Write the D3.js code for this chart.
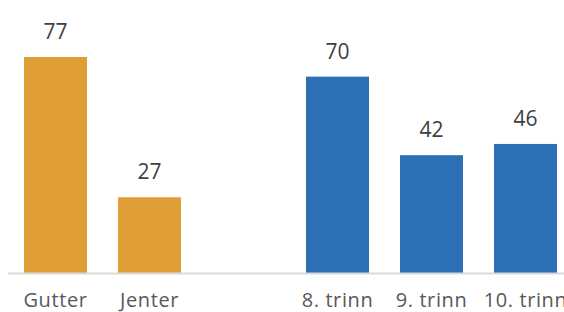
<!DOCTYPE html>
<html>
<head>
<meta charset="utf-8">
<script src="https://cdn.jsdelivr.net/npm/d3@7"></script>
<style>
  body { margin: 0; background: #fff; }
</style>
</head>
<body>
<div id="chart"></div>
<script>
// slots: empty string is the gap between the two groups
const categories = ["Gutter", "Jenter", "", "8. trinn", "9. trinn", "10. trinn"];
const values = [77, 27, null, 70, 42, 46];
const groups = ["kjonn", "kjonn", null, "trinn", "trinn", "trinn"];

const width = 564;
const height = 312;
const baseline = 273;

const colors = { kjonn: "#E09F36", trinn: "#2C6FB4" };

const svg = d3.select("#chart")
    .append("svg")
    .attr("width", width)
    .attr("height", height);

const x = d3.scaleBand()
    .domain(d3.range(categories.length))
    .range([8.5, 572.5])
    .paddingInner(0.33)
    .paddingOuter(0.165);

const y = d3.scaleLinear()
    .domain([0, 77])
    .range([baseline, 57]);

const data = categories.map((c, i) => ({ label: c, value: values[i], group: groups[i], i }));
const bars = data.filter(d => d.value !== null);

// bars
svg.append("g")
    .selectAll("rect")
    .data(bars)
    .enter().append("rect")
    .attr("x", d => x(d.i))
    .attr("y", d => y(d.value))
    .attr("width", x.bandwidth())
    .attr("height", d => y(0) - y(d.value))
    .attr("fill", d => colors[d.group]);

// axis line
svg.append("line")
    .attr("x1", 8)
    .attr("x2", width)
    .attr("y1", baseline + 0.5)
    .attr("y2", baseline + 0.5)
    .attr("stroke", "#d9d9d9")
    .attr("stroke-width", 2);

// value labels
svg.append("g")
    .selectAll("text")
    .data(bars)
    .enter().append("text")
    .attr("x", d => x(d.i) + x.bandwidth() / 2)
    .attr("y", d => y(d.value) - 18)
    .attr("text-anchor", "middle")
    .attr("font-family", "'Open Sans', sans-serif")
    .attr("font-size", "21px")
    .attr("fill", "#404040")
    .text(d => d.value);

// category labels
svg.append("g")
    .selectAll("text")
    .data(data)
    .enter().append("text")
    .attr("x", d => x(d.i) + x.bandwidth() / 2)
    .attr("y", 307)
    .attr("text-anchor", "middle")
    .attr("font-family", "'Open Sans', sans-serif")
    .attr("font-size", "20px")
    .attr("letter-spacing", "0.6px")
    .attr("fill", "#595959")
    .text(d => d.label);
</script>
</body>
</html>
